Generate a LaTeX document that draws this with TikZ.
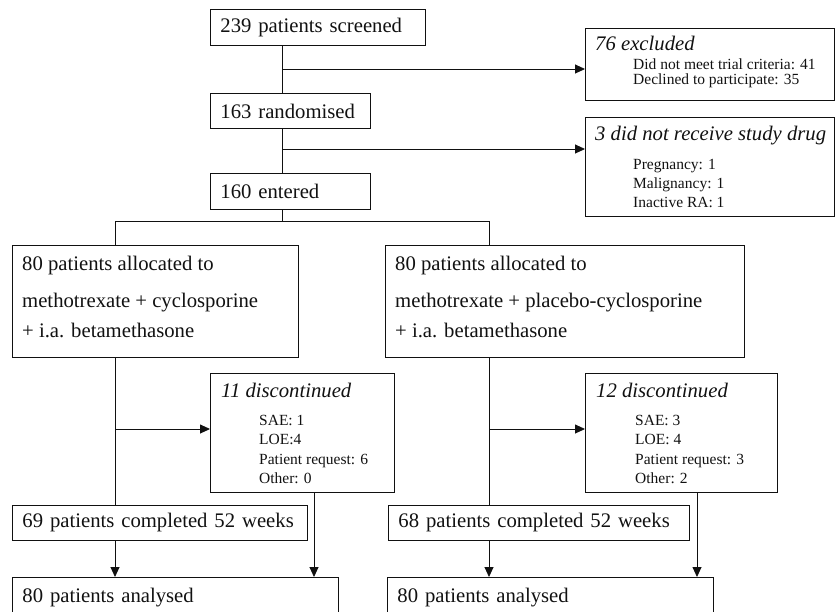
\documentclass[tikz,border=0pt]{standalone}
\usepackage{fontspec}
\setmainfont{Liberation Serif}
\usetikzlibrary{arrows.meta,calc}
\definecolor{ink}{HTML}{111111}
\tikzset{
  box/.style={draw=ink, line width=0.9pt, anchor=north west, inner xsep=10pt,
    inner ysep=0pt, align=left, text=ink, font=\fontsize{20.7}{24}\selectfont},
  frame/.style={draw=ink, line width=0.9pt, anchor=north west, inner sep=0pt},
  txt/.style={anchor=base west, inner sep=0pt, text=ink, font=\fontsize{20.7}{24}\selectfont},
  hdtxt/.style={txt, font=\fontsize{20.7}{24}\selectfont\itshape},
  subtxt/.style={txt, font=\fontsize{15.5}{19}\selectfont},
  link/.style={draw=ink, line width=0.9pt},
  arr/.style={link, -{Triangle[length=10pt,width=9pt]}},
}

\begin{document}
\begin{tikzpicture}[x=1pt,y=-1pt]
  \clip (0,0) rectangle (835,611);

  % main column
  \node[box, text width=195pt, minimum height=36pt] (screen) at (210,9) {239 patients screened};
  \node[box, text width=140pt, minimum height=35pt] (rand) at (210,93) {163 randomised};
  \node[box, text width=140pt, minimum height=36pt] (entered) at (210,173) {160 entered};

  % excluded
  \node[frame, minimum width=249pt, minimum height=72pt] (excl) at (585,28) {};
  \node[hdtxt] (excl-hd) at (595,50.7) {76 excluded};
  \node[subtxt] (excl-1) at (633,69.3) {Did not meet trial criteria: 41};
  \node[subtxt] (excl-2) at (633,84) {Declined to participate: 35};

  % no study drug
  \node[frame, minimum width=249pt, minimum height=99pt] (nodrug) at (585,117) {};
  \node[hdtxt] (nodrug-hd) at (595,140.7) {3 did not receive study drug};
  \foreach \t [count=\i] in {Pregnancy: 1, Malignancy: 1, Inactive RA: 1}
    \node[subtxt] (nodrug-\i) at (633,150+19.3*\i) {\t};

  % the two arms
  \node[frame, minimum width=286pt, minimum height=112pt] (allocL) at (12,245) {};
  \node[txt] (allocL-1) at (22,270) {80 patients allocated to};
  \node[txt] (allocL-2) at (22,307.3) {methotrexate + cyclosporine};
  \node[txt] (allocL-3) at (22,337.3) {+ i.a. betamethasone};

  \node[frame, minimum width=359pt, minimum height=112pt] (allocR) at (385,245) {};
  \node[txt] (allocR-1) at (395,270) {80 patients allocated to};
  \node[txt] (allocR-2) at (395,307.3) {methotrexate + placebo-cyclosporine};
  \node[txt] (allocR-3) at (395,337.3) {+ i.a. betamethasone};

  % discontinued
  \node[frame, minimum width=184pt, minimum height=119pt] (discL) at (210,373) {};
  \node[hdtxt] (discL-hd) at (221,397.3) {11 discontinued};
  \foreach \t [count=\i] in {SAE: 1, LOE:4, Patient request: 6, Other: 0}
    \node[subtxt] (discL-\i) at (259,406.5+19.2*\i) {\t};

  \node[frame, minimum width=192pt, minimum height=119pt] (discR) at (585,373) {};
  \node[hdtxt] (discR-hd) at (596,397.3) {12 discontinued};
  \foreach \t [count=\i] in {SAE: 3, LOE: 4, Patient request: 3, Other: 2}
    \node[subtxt] (discR-\i) at (635,406.5+19.2*\i) {\t};

  \node[box, text width=275pt, minimum height=35pt] (doneL) at (12,505) {69 patients completed 52 weeks};
  \node[box, text width=281pt, minimum height=35pt] (doneR) at (388,505) {68 patients completed 52 weeks};

  \node[box, text width=306pt, minimum height=40pt] (analL) at (12,577) {80 patients analysed};
  \node[box, text width=306pt, minimum height=40pt] (analR) at (387,577) {80 patients analysed};

  % junctions
  \coordinate (spine) at (282,0);
  \coordinate (j1) at (282,69);
  \coordinate (j2) at (282,149);
  \coordinate (fork) at (282,221);
  \coordinate (legL) at (115,221);
  \coordinate (legR) at (489,221);
  \coordinate (jL) at (115,429);
  \coordinate (jR) at (489,429);
  \coordinate (dropL) at (314,0);
  \coordinate (dropR) at (697,0);

  \draw[link] (screen.south -| spine) -- (rand.north -| spine);
  \draw[arr] (j1) -- (j1 -| excl.west);
  \draw[link] (rand.south -| spine) -- (entered.north -| spine);
  \draw[arr] (j2) -- (j2 -| nodrug.west);
  \draw[link] (entered.south -| spine) -- (fork);
  \draw[link] (legL |- allocL.north) -- (legL) -- (legR) -- (legR |- allocR.north);

  \draw[link] (allocL.south -| legL) -- (doneL.north -| legL);
  \draw[arr] (jL) -- (jL -| discL.west);
  \draw[arr] (doneL.south -| legL) -- (analL.north -| legL);
  \draw[arr] (discL.south -| dropL) -- (analL.north -| dropL);

  \draw[link] (allocR.south -| legR) -- (doneR.north -| legR);
  \draw[arr] (jR) -- (jR -| discR.west);
  \draw[arr] (doneR.south -| legR) -- (analR.north -| legR);
  \draw[arr] (discR.south -| dropR) -- (analR.north -| dropR);
\end{tikzpicture}
\end{document}
